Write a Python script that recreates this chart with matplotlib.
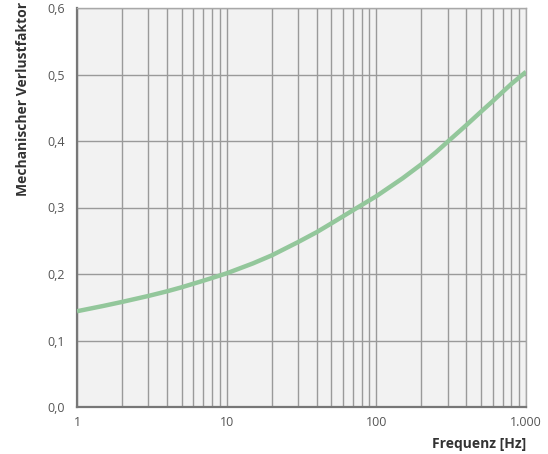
import matplotlib
matplotlib.use("Agg")
import matplotlib.pyplot as plt
from matplotlib.ticker import FixedLocator, FixedFormatter, NullFormatter

plt.rcParams['font.family'] = ['Open Sans', 'DejaVu Sans']

# Loss factor vs. frequency
freq = [1, 1.5, 2, 3, 4, 5, 7, 10, 15, 20, 30, 40, 50, 70, 100, 150, 200, 250,
        300, 400, 500, 600, 700, 800, 1000]
loss = [0.144, 0.152, 0.158, 0.167, 0.174, 0.180, 0.190, 0.201, 0.216, 0.228,
        0.248, 0.263, 0.276, 0.296, 0.317, 0.344, 0.365, 0.383, 0.399, 0.424,
        0.444, 0.460, 0.474, 0.486, 0.504]

y_ticks = [0.0, 0.1, 0.2, 0.3, 0.4, 0.5, 0.6]
y_labels = ["0,0", "0,1", "0,2", "0,3", "0,4", "0,5", "0,6"]
x_ticks = [1, 10, 100, 1000]
x_labels = ["1", "10", "100", "1.000"]
x_minor = [m * d for d in (1, 10, 100) for m in range(2, 10)]

fig = plt.figure(figsize=(5.48, 4.54), dpi=100)
ax = fig.add_axes([77 / 548, 1 - 407 / 454, 449 / 548, 399 / 454])
ax.set_facecolor('#f2f2f2')

ax.set_xscale('log')
ax.set_xlim(1, 1000)
ax.set_ylim(0, 0.6)

ax.xaxis.set_major_locator(FixedLocator(x_ticks))
ax.xaxis.set_major_formatter(FixedFormatter(x_labels))
ax.xaxis.set_minor_locator(FixedLocator(x_minor))
ax.xaxis.set_minor_formatter(NullFormatter())
ax.yaxis.set_major_locator(FixedLocator(y_ticks))
ax.yaxis.set_major_formatter(FixedFormatter(y_labels))

ax.grid(True, which='both', axis='x', color='#9a9a9a', linewidth=1.0)
ax.grid(True, which='major', axis='y', color='#9a9a9a', linewidth=1.0)
ax.set_axisbelow(True)

ax.tick_params(which='both', length=0)
ax.tick_params(axis='x', pad=6.5, labelsize=9, labelcolor='#555555')
ax.tick_params(axis='y', pad=9, labelsize=9, labelcolor='#555555')

for side in ('left', 'bottom'):
    ax.spines[side].set_color('#777777')
    ax.spines[side].set_linewidth(1.6)
for side in ('top', 'right'):
    ax.spines[side].set_color('#a8a8a8')
    ax.spines[side].set_linewidth(1.0)

ax.plot(freq, loss, color='#93c79b', linewidth=3.2, solid_joinstyle='round',
        solid_capstyle='butt', zorder=3)

ax.set_ylabel('Mechanischer Verlustfaktor', fontsize=10, fontweight='bold', color='#333333')
ax.yaxis.set_label_coords(-0.1055, 0.773)
ax.set_xlabel('Frequenz [Hz]', fontsize=10, fontweight='bold', color='#333333', ha='right')
ax.xaxis.set_label_coords(1.0, -0.075)

fig.savefig('out.png', dpi=100)
